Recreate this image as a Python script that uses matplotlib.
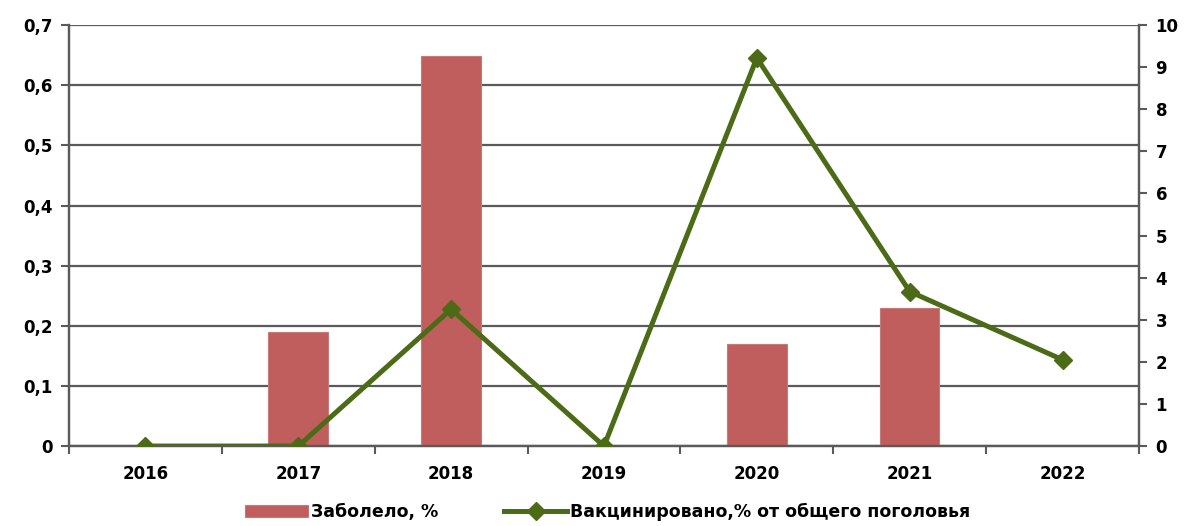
import matplotlib.pyplot as plt
import numpy as np
from matplotlib.ticker import FuncFormatter

years = ["2016", "2017", "2018", "2019", "2020", "2021", "2022"]
sick_pct = [0.0, 0.19, 0.648, 0.0, 0.17, 0.23, 0.0]
vaccinated_pct = [0.0, 0.0, 3.25, 0.0, 9.22, 3.67, 2.05]

bar_color = "#BF5E5C"
line_color = "#4B6B16"
grid_color = "#5A5A5A"

plt.rcParams["font.family"] = ["DejaVu Sans"]
plt.rcParams["font.weight"] = "bold"

fig = plt.figure(figsize=(11.92, 5.26), dpi=100)
ax = fig.add_axes([0.0579, 0.152, 0.8976, 0.8003])
ax2 = ax.twinx()

x = np.arange(len(years))
heights = [v if v > 0 else np.nan for v in sick_pct]
ax.bar(x, heights, width=0.39, color=bar_color, edgecolor="#C97A78",
       linewidth=0.8, label="Заболело, %", zorder=3)
ax2.plot(x, vaccinated_pct, color=line_color, linewidth=3.6, marker="D",
         markersize=9, label="Вакцинировано,% от общего поголовья", zorder=4)

ax.set_xlim(-0.5, len(years) - 0.5)
ax.set_ylim(0, 0.7)
ax2.set_ylim(0, 10)
ax.set_yticks(np.arange(0, 0.71, 0.1))
ax2.set_yticks(np.arange(0, 11, 1))
ax.yaxis.set_major_formatter(FuncFormatter(
    lambda v, p: "0" if abs(v) < 1e-9 else f"{v:.1f}".replace(".", ",")))
ax.grid(axis="y", color=grid_color, linewidth=1.6, zorder=0)
ax.set_axisbelow(True)

# category labels centred, tick marks at category boundaries
ax.set_xticks(x)
ax.set_xticklabels(years)
ax.set_xticks(np.arange(-0.5, len(years)), minor=True)
ax.tick_params(axis="x", which="major", length=0, pad=14, labelsize=12)
ax.tick_params(axis="x", which="minor", length=6, width=1.5, color=grid_color)
ax.tick_params(axis="y", length=6, width=1.5, color=grid_color, labelsize=12, pad=6)
ax2.tick_params(axis="y", length=6, width=1.5, color=grid_color, labelsize=12, pad=6)

for a in (ax, ax2):
    a.spines["top"].set_visible(False)
    for side in ("left", "right", "bottom"):
        a.spines[side].set_color(grid_color)
        a.spines[side].set_linewidth(1.6)

h1, l1 = ax.get_legend_handles_labels()
h2, l2 = ax2.get_legend_handles_labels()
fig.legend(h1 + h2, l1 + l2, loc="center", bbox_to_anchor=(0.51, 0.027),
           ncol=2, frameon=False, fontsize=12.5, handlelength=3.6,
           columnspacing=3.8, handletextpad=0.2)

fig.savefig("out.png", dpi=100)
